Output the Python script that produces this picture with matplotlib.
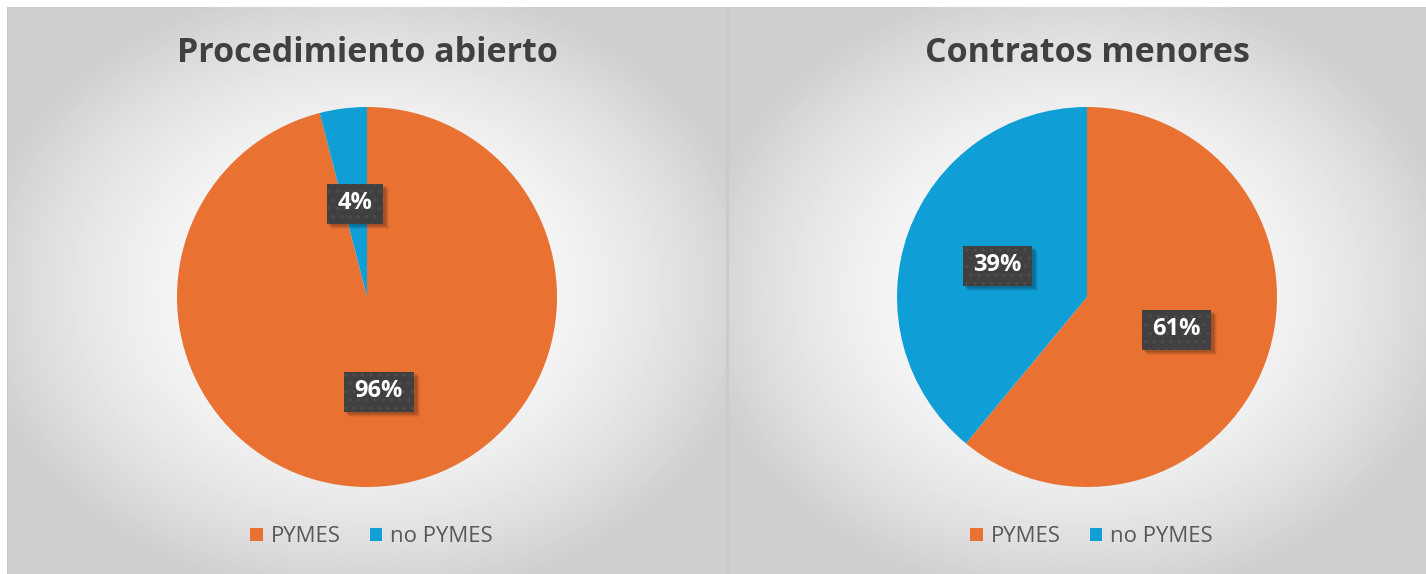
import numpy as np
import matplotlib
matplotlib.use('Agg')
import matplotlib.pyplot as plt
import matplotlib.transforms as mtransforms
from matplotlib.patches import Rectangle

categories = ['PYMES', 'no PYMES']
titles = ['Procedimiento abierto', 'Contratos menores']
abierto_values = [96, 4]
menores_values = [61, 39]
colors = ['#E97132', '#0F9ED5']

plt.rcParams['font.family'] = ['Open Sans', 'DejaVu Sans']

W, H = 1426, 574
fig = plt.figure(figsize=(W / 100, H / 100), dpi=100)

# ---- background panels with radial gradient ----
bg = fig.add_axes([0, 0, 1, 1])
bg.set_axis_off()
yy, xx = np.mgrid[0:H, 0:W] + 0.5
img = np.ones((H, W))


def panel(x0, x1, y0, y1):
    cx = (x0 + x1) / 2
    cy = (y0 + y1) / 2
    hw = (x1 - x0) / 2
    hh = (y1 - y0) / 2
    sl = (slice(y0, y1), slice(x0, x1))
    d2 = ((xx[sl] - cx) / hw) ** 2 + ((yy[sl] - cy) / hh) ** 2
    v = 255 - 40 * d2
    img[sl] = np.clip(v, 207, 255) / 255


panel(7, 726, 7, H)
panel(729, W, 7, H)
img[7:, 726:729] = 0xcb / 255
img[7:, 7] = 0xc6 / 255
bg.imshow(img, cmap='gray', vmin=0, vmax=1, extent=[0, W, H, 0],
          aspect='auto', interpolation='nearest')
bg.set_xlim(0, W)
bg.set_ylim(H, 0)


def px_axes(cx, cy, r):
    return fig.add_axes([(cx - r) / W, (H - cy - r) / H, 2 * r / W, 2 * r / H])


label_items = []
centers = [367, 1087]
for vals, title, cx in zip([abierto_values, menores_values], titles, centers):
    ax = px_axes(cx, 297, 190)
    wedges, texts, autotexts = ax.pie(
        vals, colors=colors, startangle=90, counterclock=False,
        autopct='%1.0f%%', pctdistance=0.5, radius=1,
        wedgeprops=dict(linewidth=0))
    ax.set_xlim(-1, 1)
    ax.set_ylim(-1, 1)
    ax.set_aspect('equal')
    for t in autotexts:
        t.set(color='white', fontsize=17, fontweight='bold', zorder=5)
        label_items.append((ax, t))
    fig.text(cx / W, 1 - 62 / H, title, ha='center', va='baseline',
             fontsize=24.5, fontweight='bold', color='#404040')
    fig.legend(wedges, categories, loc='center',
               bbox_to_anchor=((cx + 4.5) / W, 1 - 537 / H),
               bbox_transform=fig.transFigure, ncol=2, frameon=False,
               fontsize=16, labelcolor='#595959', handlelength=0.55,
               handleheight=0.55, handletextpad=0.36, columnspacing=1.3)

# dark label boxes with soft shadow
fig.canvas.draw()
ident = mtransforms.IdentityTransform()
for ax, t in label_items:
    bb = t.get_window_extent()
    xc, yc = ax.transData.transform(t.get_position())
    bw = bb.width + 21
    bh = 40
    x0, y0 = xc - bw / 2, yc - bh / 2 - 1
    for k, a in [(6, 0.05), (5, 0.07), (4, 0.09), (3, 0.10)]:
        ax.add_patch(Rectangle((x0 + k - 1, y0 - k + 1), bw + 1, bh,
                               transform=ident, facecolor=(0, 0, 0, a),
                               linewidth=0, zorder=3.5, clip_on=False))
    ax.add_patch(Rectangle((x0, y0), bw, bh, transform=ident,
                           facecolor='#404040', edgecolor='#4d4d4d',
                           linewidth=0, hatch='..', zorder=4, clip_on=False))

fig.savefig('out.png', dpi=100)
